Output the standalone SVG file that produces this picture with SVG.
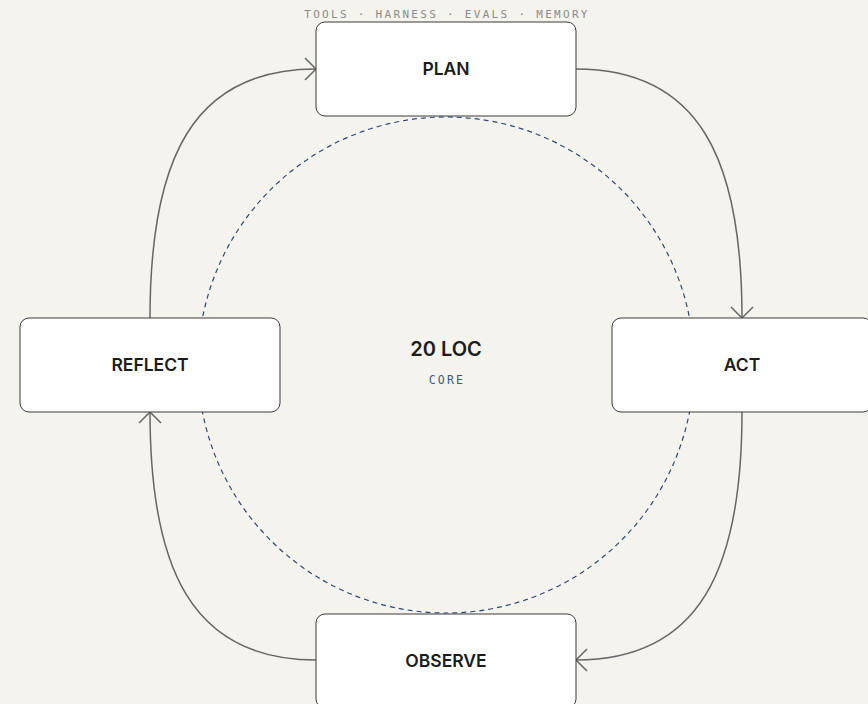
<svg xmlns="http://www.w3.org/2000/svg" width="868" height="704" viewBox="0 0 868 704">
  <style>
    .node rect { fill: #ffffff; stroke: #3a3a3a; stroke-width: 1; }
    .label { font-family: Inter, "Liberation Sans", sans-serif; font-weight: 600; font-size: 17.5px; fill: #1c1c1c; text-anchor: middle; }
    .edge { fill: none; stroke: #666666; stroke-width: 1.5; }
    .mono { font-family: "DejaVu Sans Mono", "Liberation Mono", monospace; text-anchor: middle; }
  </style>
  <defs>
    <marker id="arrow" markerUnits="userSpaceOnUse" viewBox="-14 -14 16 28" markerWidth="16" markerHeight="28" refX="0" refY="0" orient="auto">
      <path d="M-11,-11 L0,0 L-11,11" fill="none" stroke="#666666" stroke-width="1.5" stroke-linejoin="round"/>
    </marker>
  </defs>
  <rect x="0" y="0" width="868" height="704" fill="#f4f3ed"/>

  <text class="mono" x="447" y="18" font-size="11" letter-spacing="2.3" fill="#8c8c88">TOOLS · HARNESS · EVALS · MEMORY</text>

  <g id="core">
    <circle cx="446" cy="365" r="248" fill="none" stroke="#2c4a7c" stroke-width="1.2" stroke-dasharray="5 4"/>
    <text x="446" y="356" font-family="Inter, 'Liberation Sans', sans-serif" font-weight="600" font-size="20" fill="#1c1c1c" text-anchor="middle">20 LOC</text>
    <text class="mono" x="447" y="384" font-size="11.5" letter-spacing="2.2" fill="#3d5a8a">CORE</text>
  </g>

  <g id="connectors">
    <path class="edge" d="M576,69 C700,69 742,160 742,318" marker-end="url(#arrow)"/>
    <path class="edge" d="M742,412 C742,569 700,660 576,660" marker-end="url(#arrow)"/>
    <path class="edge" d="M316,660 C192,660 150,569 150,412" marker-end="url(#arrow)"/>
    <path class="edge" d="M150,318 C150,160 192,69 316,69" marker-end="url(#arrow)"/>
  </g>

  <g id="plan" class="node">
    <rect x="316" y="22" width="260" height="94" rx="9"/>
    <text class="label" x="446" y="75">PLAN</text>
  </g>
  <g id="act" class="node">
    <rect x="612" y="318" width="260" height="94" rx="9"/>
    <text class="label" x="742" y="371">ACT</text>
  </g>
  <g id="observe" class="node">
    <rect x="316" y="614" width="260" height="94" rx="9"/>
    <text class="label" x="446" y="667">OBSERVE</text>
  </g>
  <g id="reflect" class="node">
    <rect x="20" y="318" width="260" height="94" rx="9"/>
    <text class="label" x="150" y="371">REFLECT</text>
  </g>
</svg>
